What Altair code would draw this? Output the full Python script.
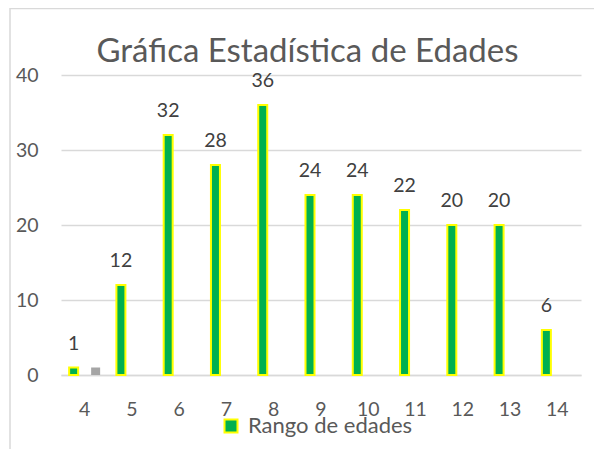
import altair as alt
import pandas as pd

# ---- data ----
edades = ["4", "5", "6", "7", "8", "9", "10", "11", "12", "13", "14"]
cantidades = [1, 12, 32, 28, 36, 24, 24, 22, 20, 20, 6]
serie2_edades = ["4"]
serie2_valores = [1]
serie_nombre = "Rango de edades"
titulo = "Gráfica Estadística de Edades"
y_ticks = [0, 10, 20, 30, 40]

df = pd.DataFrame({"edad": edades, "cantidad": cantidades, "serie": [serie_nombre] * len(edades)})
df2 = pd.DataFrame({"edad": serie2_edades, "cantidad": serie2_valores})

FONT = "Lato"
AXIS_COLOR = "#595959"
GRID = "#D9D9D9"

x_enc = alt.X("edad:N", sort=edades,
              scale=alt.Scale(paddingInner=0, paddingOuter=0),
              axis=alt.Axis(title=None, labelAngle=0, ticks=False, domainColor=GRID,
                            domainWidth=1.5, labelPadding=25, labelFont=FONT,
                            labelFontSize=19.5, labelColor=AXIS_COLOR, grid=False))
y_enc = alt.Y("cantidad:Q", scale=alt.Scale(domain=[0, 40], nice=False),
              axis=alt.Axis(title=None, values=y_ticks, ticks=False, domain=False,
                            gridColor=GRID, gridWidth=1.5, labelPadding=23,
                            labelFont=FONT, labelFontSize=19.5, labelColor=AXIS_COLOR))

base = alt.Chart(df)

bars = base.mark_bar(width=9, xOffset=-11, stroke="#FFFF00", strokeWidth=2).encode(
    x=x_enc, y=y_enc,
    color=alt.Color("serie:N", scale=alt.Scale(domain=[serie_nombre], range=["#00B050"]),
                    legend=alt.Legend(title=None, orient="none", legendX=159, legendY=340,
                                      padding=0, symbolType="square", symbolSize=169,
                                      symbolStrokeColor="#FFFF00", symbolStrokeWidth=2,
                                      symbolOpacity=1, labelLimit=400,
                                      labelFont=FONT, labelFontSize=22, labelColor=AXIS_COLOR,
                                      labelOffset=6)),
)

gray = alt.Chart(df2).mark_bar(width=9, xOffset=11, color="#A5A5A5").encode(
    x=alt.X("edad:N", sort=edades), y="cantidad:Q")

labels = base.mark_text(xOffset=-11, dy=-18, baseline="alphabetic", font=FONT,
                        fontSize=19.5, color="#404040").encode(
    x=alt.X("edad:N", sort=edades), y="cantidad:Q", text="cantidad:Q")

frame_left = alt.Chart(pd.DataFrame({"a": [0]})).mark_rule(color=GRID, strokeWidth=1.5).encode(
    x=alt.value(-51), y=alt.value(-67), y2=alt.value(374))
frame_top = alt.Chart(pd.DataFrame({"a": [0]})).mark_rule(color=GRID, strokeWidth=1.5).encode(
    x=alt.value(-51), x2=alt.value(533), y=alt.value(-66.5))

title_mark = alt.Chart(pd.DataFrame({"t": [titulo]})).mark_text(
    font=FONT, fontSize=33, color=AXIS_COLOR, baseline="alphabetic", align="center").encode(
    x=alt.value(246.5), y=alt.value(-13), text="t:N")

chart = alt.layer(frame_left, frame_top, bars, gray, labels, title_mark).properties(
    width=520, height=300,
    autosize=alt.AutoSizeParams(type="none"),
    padding={"left": 53, "top": 67, "right": 13, "bottom": 74},
    background="white",
).configure_view(stroke=None)

chart.save("out.html", embed_options={"renderer": "svg", "actions": False})
